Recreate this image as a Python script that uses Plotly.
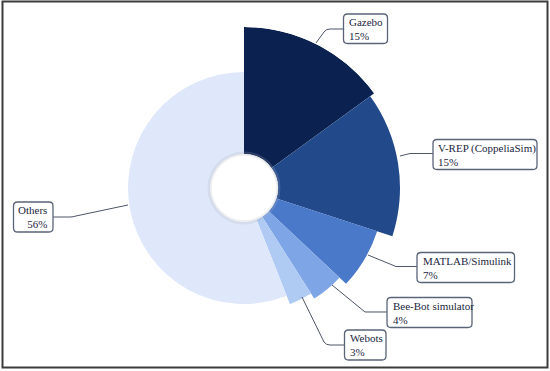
import plotly.graph_objects as go

# ---- data ----
labels = ["Gazebo", "V-REP (CoppeliaSim)", "MATLAB/Simulink", "Bee-Bot simulator", "Webots", "Others"]
shares = [15, 15, 7, 4, 3, 56]          # percent (angle of each sector)
outer_len = [127, 122, 106, 97, 91, 82]  # radial length of each sector beyond the hole
colors = ["#0b214f", "#224a8b", "#4a79c9", "#7ea5e5", "#afcbf4", "#dfe8fb"]

W, H = 550, 371
CX, CY, R, HOLE = 244, 188, 161, 34

# sector centres/widths in degrees (clockwise from top)
centers, widths = [], []
acc = 0
for s in shares:
    widths.append(s * 3.6)
    centers.append((acc + s / 2) * 3.6)
    acc += s

fig = go.Figure()
fig.add_trace(go.Barpolar(
    r=outer_len, theta=centers, width=widths,
    marker=dict(color=colors, line=dict(width=0)),
    hoverinfo="skip", showlegend=False,
))


def px(x):
    return x / W


def py(y):
    return 1 - y / H


def path(pts, close=False):
    s = ""
    for cmd, *xy in pts:
        if cmd == "Q":
            s += f"Q {px(xy[0]):.5f},{py(xy[1]):.5f} {px(xy[2]):.5f},{py(xy[3]):.5f} "
        else:
            s += f"{cmd} {px(xy[0]):.5f},{py(xy[1]):.5f} "
    if close:
        s += "Z"
    return s.strip()


def rounded(x0, y0, x1, y1, r=4):
    return path([
        ("M", x0 + r, y0), ("L", x1 - r, y0), ("Q", x1, y0, x1, y0 + r),
        ("L", x1, y1 - r), ("Q", x1, y1, x1 - r, y1),
        ("L", x0 + r, y1), ("Q", x0, y1, x0, y1 - r),
        ("L", x0, y0 + r), ("Q", x0, y0, x0 + r, y0),
    ], close=True)


shapes = []
# outer frame
shapes.append(dict(type="rect", xref="paper", yref="paper",
                   x0=px(2.5), x1=px(547.5), y0=py(367.5), y1=py(1.5),
                   line=dict(color="#3c3c3c", width=2), layer="above"))
# soft edge around the hole
shapes.append(dict(type="circle", xref="paper", yref="paper",
                   x0=px(CX - HOLE - 1), x1=px(CX + HOLE + 1), y0=py(CY + HOLE + 1), y1=py(CY - HOLE - 1),
                   line=dict(color="rgba(170,175,185,0.22)", width=3), layer="above"))
shapes.append(dict(type="circle", xref="paper", yref="paper",
                   x0=px(CX - HOLE + 1), x1=px(CX + HOLE - 1), y0=py(CY + HOLE - 1), y1=py(CY - HOLE + 1),
                   line=dict(color="rgba(200,203,210,0.3)", width=1.5), layer="above"))

line_col = "#4d5566"
leaders = [
    [("M", 316, 43), ("L", 324, 32), ("Q", 326, 29, 330, 29), ("L", 343.5, 29)],
    [("M", 400, 156), ("L", 410, 153.5), ("L", 433, 153.5)],
    [("M", 368, 255), ("L", 396, 266.5), ("L", 417, 266.5)],
    [("M", 332, 285), ("L", 365, 312), ("L", 387, 312)],
    [("M", 302, 297), ("L", 324, 342), ("Q", 326, 345, 330, 345), ("L", 344.5, 345)],
    [("M", 128, 205), ("L", 76, 216), ("Q", 73, 217, 70, 217), ("L", 53, 217)],
]
for lp in leaders:
    shapes.append(dict(type="path", xref="paper", yref="paper", path=path(lp),
                       line=dict(color=line_col, width=1)))

# label boxes (left, top, right, bottom in px)
boxes = [
    (343.5, 14, 387.5, 43.5, "left"),
    (433, 139.5, 537, 169.5, "left"),
    (417, 252.5, 514.5, 282.5, "left"),
    (387, 297.5, 472, 327.5, "left"),
    (344.5, 330, 386, 360, "left"),
    (13.5, 202, 53, 232, "right"),
]
annotations = []
for (x0, y0, x1, y1, al), lab, s in zip(boxes, labels, shares):
    shapes.append(dict(type="path", xref="paper", yref="paper",
                       path=rounded(x0, y0, x1, y1, 4),
                       fillcolor="white", line=dict(color="#5a6479", width=1.3)))
    annotations.append(dict(
        xref="paper", yref="paper", x=px(x0 + 3.5) if al == "left" else px(x1 - 4),
        y=py((y0 + y1) / 2),
        xanchor=al, yanchor="middle", showarrow=False,
        text=f"{lab}<br>{s}%", align=al,
        font=dict(family="Liberation Serif, serif", size=11, color="#1c2640"),
    ))

fig.update_layout(
    width=W, height=H,
    margin=dict(l=0, r=0, t=0, b=0),
    paper_bgcolor="white", plot_bgcolor="white",
    polar=dict(
        domain=dict(x=[px(CX - R), px(CX + R)], y=[py(CY + R), py(CY - R)]),
        hole=HOLE / R,
        bgcolor="rgba(0,0,0,0)",
        radialaxis=dict(range=[0, R - HOLE], visible=False, showgrid=False),
        angularaxis=dict(rotation=90, direction="clockwise", visible=False, showgrid=False),
    ),
    bargap=0,
    shapes=shapes,
    annotations=annotations,
)

fig.write_html("out.html", config={"displayModeBar": False},
               post_script="document.body.style.margin='0';")
